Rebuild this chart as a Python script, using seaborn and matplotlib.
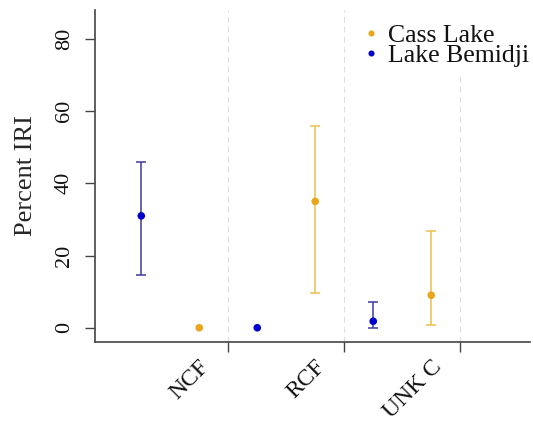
import pandas as pd
import matplotlib.pyplot as plt
import seaborn as sns

categories = ["NCF", "RCF", "UNK C"]
lakes = ["Cass Lake", "Lake Bemidji"]

cass_mean = [0, 35, 9]
cass_lo = [0, 9.5, 0.8]
cass_hi = [0, 56, 26.7]

bemidji_mean = [31, 0, 1.8]
bemidji_lo = [14.5, 0, 0]
bemidji_hi = [46, 0, 7]

rows = []
for i, c in enumerate(categories):
    rows.append({"cat": c, "x": i + 0.25, "lake": "Cass Lake",
                 "iri": cass_mean[i], "lo": cass_lo[i], "hi": cass_hi[i]})
    rows.append({"cat": c, "x": i - 0.25, "lake": "Lake Bemidji",
                 "iri": bemidji_mean[i], "lo": bemidji_lo[i], "hi": bemidji_hi[i]})
df = pd.DataFrame(rows)

point_col = {"Cass Lake": "#E9A61A", "Lake Bemidji": "#0000CC"}
bar_col = {"Cass Lake": "#EBC04E", "Lake Bemidji": "#3C3C9C"}

sns.set_style("ticks")
plt.rcParams["font.family"] = ["Liberation Serif", "DejaVu Serif"]
plt.rcParams["text.color"] = "#111111"
plt.rcParams["ytick.labelcolor"] = "#111111"

fig = plt.figure(figsize=(5.33, 4.22), dpi=100)
ax = fig.add_axes([0.178, 0.19, 0.816, 0.786])

# vertical separators at category boundaries
for b in [0.5, 1.5]:
    ax.axvline(b, color="#DDDDDD", lw=0.8, ls=(0, (5, 4)), zorder=0)
ax.axvline(2.5, ymax=0.8, color="#DDDDDD", lw=0.8, ls=(0, (5, 4)), zorder=0)

for lake in lakes:
    d = df[df["lake"] == lake]
    e = d[d["hi"] > d["lo"]]
    ax.errorbar(e["x"], e["iri"], yerr=[e["iri"] - e["lo"], e["hi"] - e["iri"]],
                fmt="none", ecolor=bar_col[lake], elinewidth=1.1,
                capsize=3.5, capthick=1.1, zorder=2)

sns.scatterplot(data=df, x="x", y="iri", hue="lake", hue_order=lakes,
                palette=point_col, s=30, edgecolor="none", zorder=3, ax=ax)

ax.set_xlim(-0.65, 3.1)
ax.set_ylim(-3.9, 88)
tick_pos = [0.5, 1.5, 2.5]
ax.set_xticks(tick_pos)
ax.set_xticklabels([])
# labels sit down-left of the boundary ticks, like R's srt=45 text
for t, c in zip(tick_pos, categories):
    ax.annotate(c, xy=(t, 0), xycoords=("data", "axes fraction"),
                xytext=(-22, -22), textcoords="offset pixels",
                rotation=45, ha="right", va="center", rotation_mode="anchor",
                fontsize=17, annotation_clip=False)

ax.set_yticks([0, 20, 40, 60, 80])
ax.set_yticklabels(["0", "20", "40", "60", "80"], rotation=90, va="center",
                   fontsize=16)
ax.tick_params(axis="both", length=7, width=1, color="#444444")
ax.tick_params(axis="y", pad=8)
ax.set_xlabel("")
ax.set_ylabel("Percent IRI", fontsize=19, labelpad=13)

for s in ["top", "right"]:
    ax.spines[s].set_visible(False)
for s in ["left", "bottom"]:
    ax.spines[s].set_color("#444444")
    ax.spines[s].set_linewidth(1.2)

leg = ax.legend(loc="upper right", bbox_to_anchor=(1.034, 1.005), frameon=False,
                fontsize=18.5, handlelength=1.0, handletextpad=0.15,
                labelspacing=-0.1, markerscale=0.8, borderaxespad=0.2)

fig.savefig("out.png", dpi=100)
